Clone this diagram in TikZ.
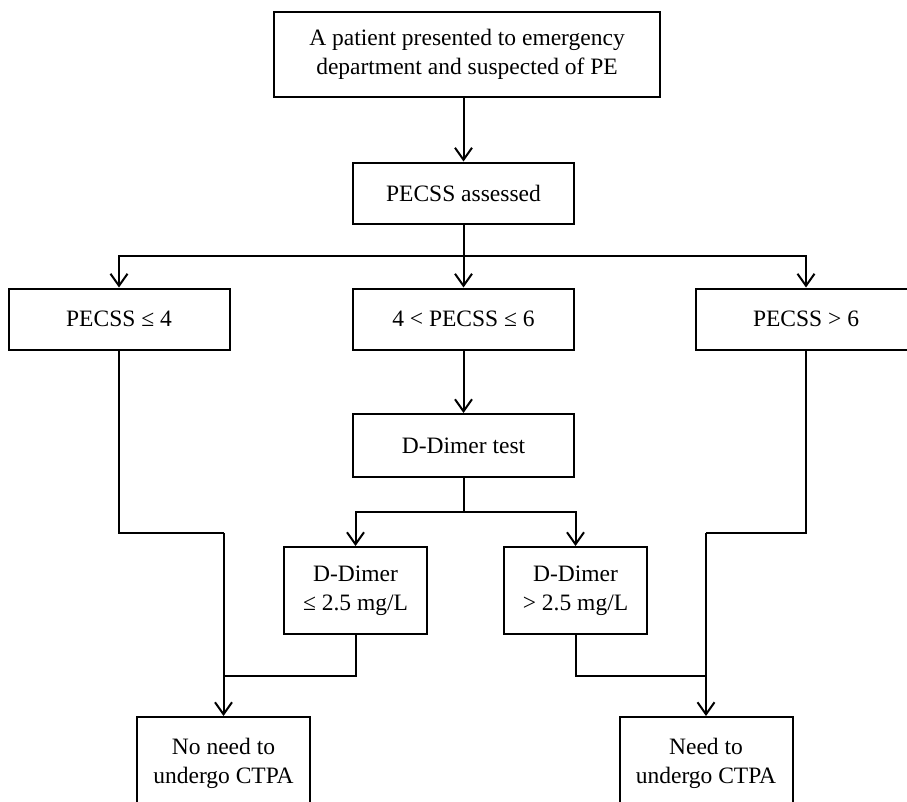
\documentclass[tikz,border=0pt]{standalone}
\usepackage{fontspec}
\setmainfont{Liberation Serif}
\usetikzlibrary{arrows.meta,positioning}

\begin{document}
\begin{tikzpicture}[
        x=1pt, y=-1pt,
        line width=2pt,
        >={Straight Barb[length=12pt,width=17pt,line width=2pt]},
        stepbox/.style={rectangle, draw, align=center, inner sep=0pt,
            font=\fontsize{23.5}{29}\selectfont},
        wide/.style={stepbox, minimum width=221pt, minimum height=61pt},
        small/.style={stepbox, minimum width=143pt, minimum height=87pt},
        final/.style={stepbox, minimum width=173pt, minimum height=92pt}
    ]
    
    % Frame
    \path[use as bounding box, clip] (0,0) rectangle (907,801);
    
    % Entry
    \node[stepbox, minimum width=386pt, minimum height=85pt] (patient) at (467,54.5)
        {A patient presented to emergency\\department and suspected of PE};
    \node[wide] (assessed) at (463.5,193) {PECSS assessed};
    
    % Score groups
    \node[wide] (low) at (119,319) {PECSS ≤ 4};
    \node[wide] (mid) at (463.5,319) {4 < PECSS ≤ 6};
    \node[wide] (high) at (806,319) {PECSS > 6};
    
    % D-Dimer branch
    \node[wide, minimum height=63pt] (dtest) at (463.5,445.5) {D-Dimer test};
    \node[small] (dlow) at (355.5,590.5) {D-Dimer\\≤ 2.5 mg/L};
    \node[small] (dhigh) at (575.5,590.5) {D-Dimer\\> 2.5 mg/L};
    
    % Outcomes
    \node[final] (noctpa) at (223.5,763) {No need to\\undergo CTPA};
    \node[final] (ctpa) at (706,763) {Need to\\undergo CTPA};
    
    % Junction points
    \coordinate (fork) at (463.5,256);
    \coordinate (dfork) at (463.5,512);
    \coordinate (lbend) at (223.5,533);
    \coordinate (lmerge) at (223.5,676);
    \coordinate (rbend) at (706,533);
    \coordinate (rmerge) at (706,676);
    
    % Connections
    \draw[->] (patient.south -| assessed.north) -- (assessed.north);
    \draw[->] (assessed) -- (mid);
    \draw[->] (fork) -| (low);
    \draw[->] (fork) -| (high);
    \draw[->] (mid) -- (dtest);
    \draw (dtest.south) -- (dfork);
    \draw[->] (dfork) -| (dlow);
    \draw[->] (dfork) -| (dhigh);
    
    \draw (low.south) |- (lbend);
    \draw[->] (lbend) -- (noctpa.north);
    \draw (dlow.south) |- (lmerge);
    
    \draw (high.south) |- (rbend);
    \draw[->] (rbend) -- (ctpa.north);
    \draw (dhigh.south) |- (rmerge);
    
\end{tikzpicture}
\end{document}
